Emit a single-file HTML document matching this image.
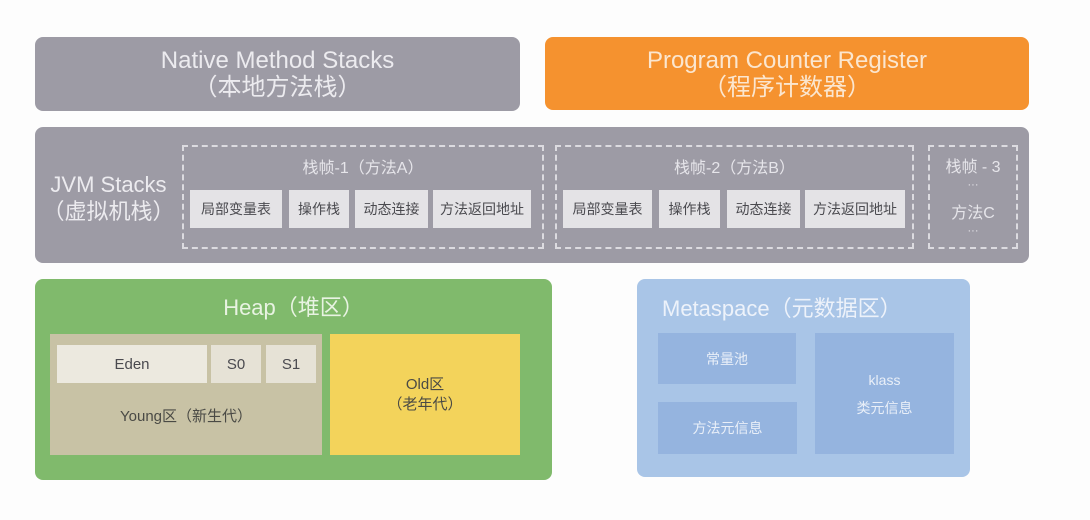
<!DOCTYPE html>
<html><head><meta charset="utf-8"><style>
body{margin:0;width:1090px;height:520px;background:#fdfdfd;position:relative;overflow:hidden;font-family:"Liberation Sans","Noto Sans CJK SC",sans-serif}
.a{position:absolute;box-sizing:border-box}
.c{display:flex;align-items:center;justify-content:center;text-align:center;flex-direction:column}
.g{background:#9d9ba5;border-radius:8px}
.t{color:#ecebef;font-size:24px;line-height:27px}
.d{border:2px dashed #dcdbe0}
.b{background:#e4e3e6;color:#4a4a4f;font-size:14px}
.f{color:#e6e5ea;font-size:16px}
.m{background:#95b4df;color:#e9eff8;font-size:14px}
</style></head><body>
<div class="a g c t" style="left:35px;top:37px;width:485px;height:74px">Native Method Stacks<br>（本地方法栈）</div>
<div class="a c t" style="left:545px;top:37px;width:484px;height:73px;background:#f5922f;border-radius:8px;color:#fbe6cf">Program Counter Register<br>（程序计数器）</div>

<div class="a g" style="left:35px;top:127px;width:994px;height:136px"></div>
<div class="a c t" style="left:35px;top:168px;width:147px;height:60px;font-size:22px">JVM Stacks<br>（虚拟机栈）</div>

<div class="a d" style="left:182px;top:145px;width:362px;height:104px"></div>
<div class="a c f" style="left:182px;top:153px;width:362px;height:26px">栈帧-1（方法A）</div>
<div class="a b c" style="left:190px;top:190px;width:92px;height:38px">局部变量表</div>
<div class="a b c" style="left:289px;top:190px;width:60px;height:38px">操作栈</div>
<div class="a b c" style="left:355px;top:190px;width:73px;height:38px">动态连接</div>
<div class="a b c" style="left:433px;top:190px;width:98px;height:38px">方法返回地址</div>

<div class="a d" style="left:555px;top:145px;width:359px;height:104px"></div>
<div class="a c f" style="left:555px;top:153px;width:359px;height:26px">栈帧-2（方法B）</div>
<div class="a b c" style="left:563px;top:190px;width:89px;height:38px">局部变量表</div>
<div class="a b c" style="left:659px;top:190px;width:61px;height:38px">操作栈</div>
<div class="a b c" style="left:727px;top:190px;width:73px;height:38px">动态连接</div>
<div class="a b c" style="left:805px;top:190px;width:100px;height:38px">方法返回地址</div>

<div class="a d" style="left:928px;top:145px;width:90px;height:104px"></div>
<div class="a c f" style="left:928px;top:154px;width:90px;height:22px">栈帧 - 3</div>
<div class="a c f" style="left:928px;top:178px;width:90px;height:14px;font-size:11px">···</div>
<div class="a c f" style="left:928px;top:200px;width:90px;height:22px">方法C</div>
<div class="a c f" style="left:928px;top:224px;width:90px;height:14px;font-size:11px">···</div>

<div class="a" style="left:35px;top:279px;width:517px;height:201px;background:#80ba6c;border-radius:8px"></div>
<div class="a c" style="left:35px;top:290px;width:517px;height:32px;color:#e8f3e2;font-size:22px">Heap（堆区）</div>
<div class="a" style="left:50px;top:334px;width:272px;height:121px;background:#c8c2a5"></div>
<div class="a b c" style="left:57px;top:345px;width:150px;height:38px;background:#ece9df;font-size:15px">Eden</div>
<div class="a b c" style="left:211px;top:345px;width:50px;height:38px;background:#e6e2d6;font-size:15px">S0</div>
<div class="a b c" style="left:266px;top:345px;width:50px;height:38px;background:#e6e2d6;font-size:15px">S1</div>
<div class="a c" style="left:50px;top:402px;width:272px;height:26px;color:#4a4a45;font-size:15px">Young区（新生代）</div>
<div class="a c" style="left:330px;top:334px;width:190px;height:121px;background:#f3d35b;color:#4a4a45;font-size:15px;line-height:20px">Old区<br>（老年代）</div>

<div class="a" style="left:637px;top:279px;width:333px;height:198px;background:#a9c5e7;border-radius:8px"></div>
<div class="a" style="left:662px;top:293px;height:32px;color:#edf2fa;font-size:22px;line-height:32px">Metaspace（元数据区）</div>
<div class="a m c" style="left:658px;top:333px;width:138px;height:51px">常量池</div>
<div class="a m c" style="left:658px;top:402px;width:139px;height:52px">方法元信息</div>
<div class="a m c" style="left:815px;top:333px;width:139px;height:121px;line-height:28px">klass<br>类元信息</div>
</body></html>
